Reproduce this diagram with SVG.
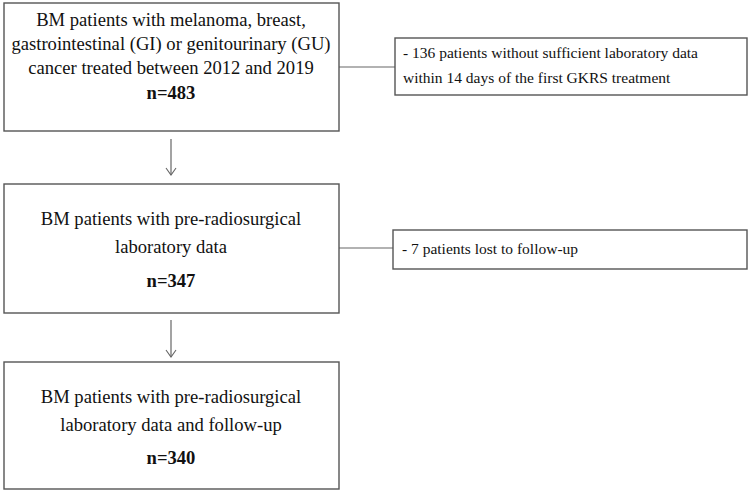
<svg xmlns="http://www.w3.org/2000/svg" width="749" height="495" viewBox="0 0 749 495">
<defs>
<style>
.box{fill:#fff;stroke:#555;stroke-width:1.4}
.t{font-family:"Liberation Serif","Times New Roman",serif;font-size:18.6px;fill:#111;text-anchor:middle}
.b{font-weight:bold}
.s{font-family:"Liberation Serif","Times New Roman",serif;font-size:15.5px;fill:#111}
.c{stroke:#666;stroke-width:1.2;fill:none}
</style>
<marker id="ah" markerWidth="12" markerHeight="12" refX="10" refY="6" orient="auto" markerUnits="userSpaceOnUse">
<path d="M3,1 L10,6 L3,11" fill="none" stroke="#666" stroke-width="1.1"/>
</marker>
</defs>
<rect width="749" height="495" fill="#fff"/>
<g id="connectors">
<line class="c" x1="339" y1="67" x2="395" y2="67"/>
<line class="c" x1="339" y1="248" x2="393" y2="248"/>
<line class="c" x1="171" y1="139" x2="171" y2="175" marker-end="url(#ah)"/>
<line class="c" x1="171" y1="320" x2="171" y2="357" marker-end="url(#ah)"/>
</g>
<g id="n1">
<rect class="box" x="4" y="3" width="335" height="128"/>
<text class="t" x="171" y="26">BM patients with melanoma, breast,</text>
<text class="t" x="171" y="50">gastrointestinal (GI) or genitourinary (GU)</text>
<text class="t" x="171" y="74">cancer treated between 2012 and 2019</text>
<text class="t b" x="171" y="99">n=483</text>
</g>
<g id="e1">
<rect class="box" x="395" y="38" width="352" height="57"/>
<text class="s" x="403" y="58">- 136 patients without sufficient laboratory data</text>
<text class="s" x="403" y="83">within 14 days of the first GKRS treatment</text>
</g>
<g id="n2">
<rect class="box" x="4" y="184" width="335" height="129"/>
<text class="t" x="171" y="225">BM patients with pre-radiosurgical</text>
<text class="t" x="171" y="253">laboratory data</text>
<text class="t b" x="171" y="287">n=347</text>
</g>
<g id="e2">
<rect class="box" x="393" y="230" width="354" height="39"/>
<text class="s" x="402" y="254">- 7 patients lost to follow-up</text>
</g>
<g id="n3">
<rect class="box" x="4" y="362" width="335" height="127"/>
<text class="t" x="171" y="403">BM patients with pre-radiosurgical</text>
<text class="t" x="171" y="431">laboratory data and follow-up</text>
<text class="t b" x="171" y="464">n=340</text>
</g>
</svg>
